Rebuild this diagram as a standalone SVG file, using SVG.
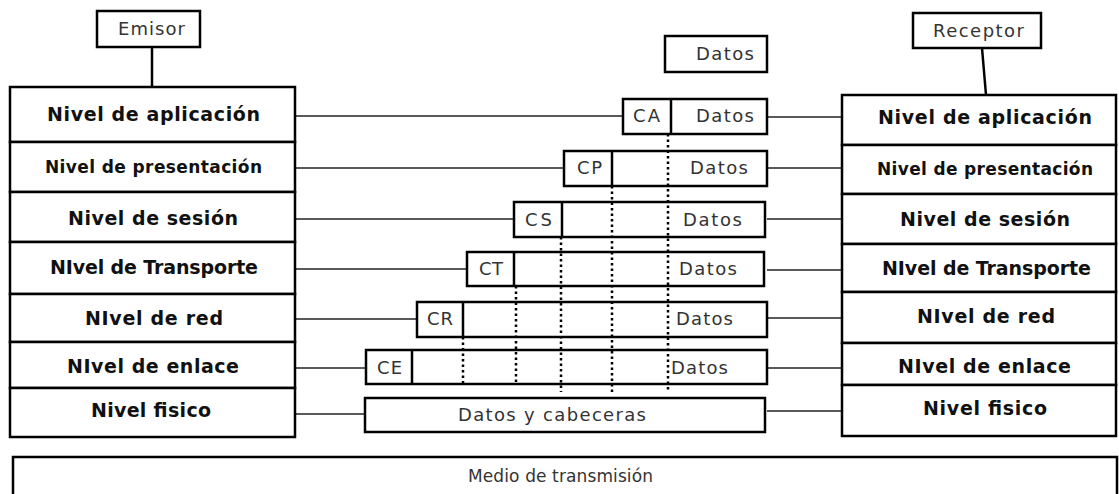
<svg xmlns="http://www.w3.org/2000/svg" width="1119" height="494" viewBox="0 0 1119 494">
<style>
.box{fill:#fff;stroke:#000;stroke-width:2.5}
.pk{fill:#fff;stroke:#000;stroke-width:2.5}
.b{font-family:"DejaVu Sans",sans-serif;font-weight:bold;font-size:19px;fill:#111;text-anchor:middle}
.bs{font-size:17px}
.r{font-family:"DejaVu Sans",sans-serif;font-size:18px;fill:#333;text-anchor:middle}
.m{font-size:17px}
.ln{stroke:#222;stroke-width:1.5;fill:none}
.thick{stroke:#000;stroke-width:2.5;fill:none}
.dot{stroke:#000;stroke-width:2.5;stroke-dasharray:2.5 3;fill:none}
</style>
<rect width="1119" height="494" fill="#fff"/>
<g id="connectors">
<line class="thick" x1="152" y1="47" x2="152" y2="87"/>
<line class="thick" x1="982" y1="48" x2="986" y2="95"/>
<line class="ln" x1="295" y1="116" x2="623" y2="116"/>
<line class="ln" x1="295" y1="168" x2="564" y2="168"/>
<line class="ln" x1="295" y1="219" x2="514" y2="219"/>
<line class="ln" x1="295" y1="269" x2="467" y2="269"/>
<line class="ln" x1="295" y1="319" x2="417" y2="319"/>
<line class="ln" x1="295" y1="368" x2="366" y2="368"/>
<line class="ln" x1="295" y1="414" x2="365" y2="414"/>
<line class="ln" x1="767" y1="117" x2="842" y2="117"/>
<line class="ln" x1="767" y1="168" x2="842" y2="168"/>
<line class="ln" x1="767" y1="219" x2="842" y2="219"/>
<line class="ln" x1="767" y1="270" x2="842" y2="270"/>
<line class="ln" x1="767" y1="318" x2="842" y2="318"/>
<line class="ln" x1="767" y1="368" x2="842" y2="368"/>
<line class="ln" x1="767" y1="411" x2="842" y2="411"/>
</g>
<g id="emisor"><rect class="box" x="97" y="11" width="103" height="36"/><text class="r" x="151.5" y="35" textLength="67">Emisor</text></g>
<g id="receptor"><rect class="box" x="913" y="13" width="128" height="35"/><text class="r" x="978.5" y="37" textLength="91">Receptor</text></g>
<g id="emisor-aplicacion"><rect class="box" x="10" y="87" width="285" height="55"/><text class="b" x="153.5" y="121" textLength="213">Nivel de aplicación</text></g>
<g id="emisor-presentacion"><rect class="box" x="10" y="142" width="285" height="50"/><text class="b bs" x="153.5" y="173" textLength="217">Nivel de presentación</text></g>
<g id="emisor-sesion"><rect class="box" x="10" y="192" width="285" height="50"/><text class="b" x="153" y="225" textLength="170">Nivel de sesión</text></g>
<g id="emisor-transporte"><rect class="box" x="10" y="242" width="285" height="52"/><text class="b" x="154" y="274" textLength="208">NIvel de Transporte</text></g>
<g id="emisor-red"><rect class="box" x="10" y="294" width="285" height="48"/><text class="b" x="154" y="325" textLength="138">NIvel de red</text></g>
<g id="emisor-enlace"><rect class="box" x="10" y="342" width="285" height="46"/><text class="b" x="153" y="373" textLength="172">NIvel de enlace</text></g>
<g id="emisor-fisico"><rect class="box" x="10" y="388" width="285" height="49"/><text class="b" x="151" y="417" textLength="120">Nivel fisico</text></g>
<g id="receptor-aplicacion"><rect class="box" x="842" y="95" width="274" height="50"/><text class="b" x="985" y="124" textLength="214">Nivel de aplicación</text></g>
<g id="receptor-presentacion"><rect class="box" x="842" y="145" width="274" height="49"/><text class="b bs" x="985" y="175" textLength="216">Nivel de presentación</text></g>
<g id="receptor-sesion"><rect class="box" x="842" y="194" width="274" height="50"/><text class="b" x="985" y="226" textLength="170">Nivel de sesión</text></g>
<g id="receptor-transporte"><rect class="box" x="842" y="244" width="274" height="48"/><text class="b" x="986.5" y="275" textLength="209">NIvel de Transporte</text></g>
<g id="receptor-red"><rect class="box" x="842" y="292" width="274" height="51"/><text class="b" x="986" y="323" textLength="138">NIvel de red</text></g>
<g id="receptor-enlace"><rect class="box" x="842" y="343" width="274" height="42"/><text class="b" x="984.5" y="373" textLength="173">NIvel de enlace</text></g>
<g id="receptor-fisico"><rect class="box" x="842" y="385" width="274" height="51"/><text class="b" x="985" y="415" textLength="124">Nivel fisico</text></g>
<g id="datos"><rect class="pk" x="665" y="36" width="102" height="36"/><text class="r" x="725" y="60" textLength="58">Datos</text></g>
<g id="pdu-ca"><rect class="pk" x="623" y="99" width="144" height="35"/><line class="thick" x1="671" y1="99" x2="671" y2="134"/><text class="r" x="646.5" y="122" textLength="27">CA</text><text class="r" x="725" y="122" textLength="58">Datos</text></g>
<g id="pdu-cp"><rect class="pk" x="564" y="151" width="203" height="35"/><line class="thick" x1="612" y1="151" x2="612" y2="186"/><text class="r" x="589.5" y="174" textLength="25">CP</text><text class="r" x="719" y="174" textLength="58">Datos</text></g>
<g id="pdu-cs"><rect class="pk" x="514" y="202" width="251" height="35"/><line class="thick" x1="562" y1="202" x2="562" y2="237"/><text class="r" x="538.5" y="226" textLength="27">CS</text><text class="r" x="712.5" y="226" textLength="59">Datos</text></g>
<g id="pdu-ct"><rect class="pk" x="467" y="252" width="297" height="34"/><line class="thick" x1="514" y1="252" x2="514" y2="286"/><text class="r" x="491" y="275" textLength="24">CT</text><text class="r" x="708" y="275" textLength="58">Datos</text></g>
<g id="pdu-cr"><rect class="pk" x="417" y="302" width="350" height="35"/><line class="thick" x1="463" y1="302" x2="463" y2="337"/><text class="r" x="440" y="325" textLength="26">CR</text><text class="r" x="704.5" y="325" textLength="57">Datos</text></g>
<g id="pdu-ce"><rect class="pk" x="366" y="350" width="401" height="34"/><line class="thick" x1="412" y1="350" x2="412" y2="384"/><text class="r" x="389.5" y="374" textLength="25">CE</text><text class="r" x="699.5" y="374" textLength="57">Datos</text></g>
<g id="pdu-fisico"><rect class="pk" x="365" y="398" width="400" height="34"/><text class="r" x="552" y="421" textLength="188">Datos y cabeceras</text></g>
<g id="dotted">
<line class="dot" x1="668" y1="134" x2="668" y2="392"/>
<line class="dot" x1="612" y1="186" x2="612" y2="392"/>
<line class="dot" x1="561" y1="237" x2="561" y2="392"/>
<line class="dot" x1="516" y1="286" x2="516" y2="384"/>
<line class="dot" x1="463" y1="337" x2="463" y2="384"/>
</g>
<g id="medio"><rect class="box" x="13" y="457" width="1104" height="45"/><text class="r m" x="560.5" y="482" textLength="185">Medio de transmisión</text></g>
</svg>
